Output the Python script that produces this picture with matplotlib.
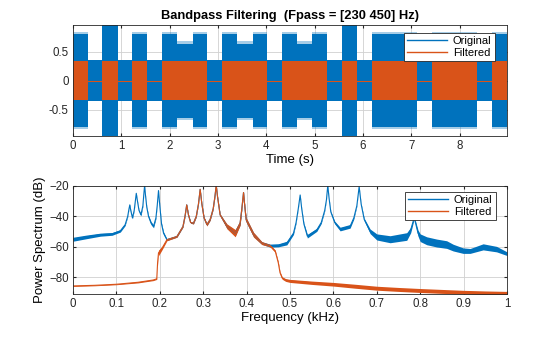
import matplotlib
matplotlib.use("Agg")
import matplotlib.pyplot as plt
from matplotlib.lines import Line2D
import numpy as np

plt.rcParams['font.family'] = ['Liberation Sans', 'DejaVu Sans']

blue_c = '#0072BD'
orange_c = '#D95319'

# time-domain envelopes (s, amplitude)
t_end = 8.98
base_amp = 0.35
loud_start = [0.00, 0.61, 1.23, 1.85, 2.16, 2.48, 3.09, 3.40, 3.72, 4.33, 4.64, 4.95, 5.57, 6.19, 7.43, 8.67]
loud_end   = [0.32, 0.94, 1.54, 2.16, 2.48, 2.77, 3.40, 3.72, 4.01, 4.64, 4.95, 5.26, 5.88, 7.11, 8.35, 8.98]
loud_amp   = [0.80, 0.97, 0.80, 0.80, 0.64, 0.80, 0.80, 0.64, 0.80, 0.80, 0.64, 0.80, 0.97, 0.80, 0.80, 0.80]
filt_start = [0.00, 0.61, 1.23, 1.85, 3.09, 4.33, 5.57, 6.19, 7.43, 8.67]
filt_end   = [0.32, 0.94, 1.54, 2.77, 4.01, 5.26, 5.88, 7.11, 8.35, 8.98]
filt_amp   = [0.34, 0.34, 0.34, 0.34, 0.34, 0.34, 0.34, 0.34, 0.34, 0.34]

# spectra: (kHz, dB, half-width of the noisy band)
# original below the passband
f_orig_lo = [0.0, 0.03, 0.063, 0.09, 0.109, 0.12, 0.126, 0.129, 0.1309, 0.133, 0.137, 0.141, 0.144, 0.1458, 0.148,
             0.152, 0.1565, 0.161, 0.163, 0.165, 0.167, 0.170, 0.174, 0.18, 0.1856, 0.191, 0.194, 0.197, 0.200,
             0.204, 0.2086]
db_orig_lo = [-55.0, -53.5, -52.0, -51.5, -49.5, -45.5, -40.0, -35.0, -32.4, -36.0, -41.0, -36.0, -29.0, -24.8, -29.0,
              -36.0, -39.0, -33.0, -26.0, -19.5, -26.0, -34.0, -40.0, -44.5, -46.5, -41.0, -33.0, -23.0, -33.0,
              -45.0, -51.0]
sp_orig_lo = [1.3, 1.2, 1.0, 0.9, 0.8, 0.6, 0.4, 0.3, 0.3, 0.4, 0.6, 0.4, 0.3, 0.3, 0.3,
              0.5, 0.7, 0.5, 0.3, 0.3, 0.3, 0.5, 0.8, 1.0, 1.0, 0.6, 0.4, 0.3, 0.4,
              0.7, 0.9]
# original above the passband
f_orig_hi = [0.454, 0.473, 0.4927, 0.508, 0.514, 0.519, 0.5234, 0.527, 0.532, 0.540, 0.5618, 0.572, 0.580, 0.584,
             0.587, 0.590, 0.594, 0.603, 0.6155, 0.6385, 0.647, 0.654, 0.6593, 0.664, 0.671, 0.6846, 0.70, 0.7306,
             0.769, 0.778, 0.783, 0.786, 0.789, 0.795, 0.80, 0.815, 0.838, 0.861, 0.876, 0.899, 0.915, 0.945,
             0.976, 1.0]
db_orig_hi = [-59.2, -59.0, -57.5, -51.0, -44.0, -35.0, -25.9, -35.0, -45.0, -53.0, -48.8, -44.0, -36.0, -29.0,
              -19.5, -28.0, -37.0, -44.0, -48.3, -46.5, -41.0, -33.0, -20.4, -32.0, -42.0, -49.8, -53.5, -55.0,
              -53.2, -49.0, -44.0, -41.0, -44.0, -51.0, -54.0, -56.0, -57.5, -58.5, -60.5, -62.5, -62.7, -60.0,
              -61.5, -64.5]
sp_orig_hi = [1.0, 1.0, 1.2, 0.9, 0.5, 0.3, 0.3, 0.4, 0.7, 1.2, 1.0, 0.7, 0.5, 0.3,
              0.3, 0.3, 0.5, 0.9, 1.2, 1.2, 0.8, 0.4, 0.3, 0.4, 0.8, 1.5, 2.0, 2.3,
              2.5, 1.8, 1.2, 0.6, 1.2, 2.0, 2.5, 2.6, 2.6, 2.5, 2.2, 1.8, 1.6, 2.0,
              1.8, 1.2]

f_filt = [0.0, 0.05, 0.10, 0.15, 0.185, 0.193, 0.195, 0.197, 0.201, 0.206, 0.2164, 0.2395, 0.2533, 0.258, 0.262,
          0.266, 0.271, 0.2775, 0.284, 0.289, 0.293, 0.297, 0.302, 0.3085, 0.316, 0.323, 0.327, 0.33, 0.333,
          0.339, 0.3546, 0.3737, 0.385, 0.389, 0.3929, 0.396, 0.399, 0.416, 0.435, 0.454, 0.466, 0.473, 0.477,
          0.482, 0.49, 0.50, 0.55, 0.60, 0.65, 0.70, 0.75, 0.80, 0.85, 0.90, 0.95, 1.0]
db_filt = [-85.7, -85.3, -84.6, -83.3, -81.8, -81.0, -70.0, -64.0, -62.5, -60.5, -55.3, -53.2, -46.7, -40.0, -32.4,
           -39.0, -44.0, -44.5, -40.0, -32.0, -22.2, -32.0, -41.0, -45.4, -42.0, -35.0, -27.0, -19.5, -27.0,
           -39.0, -46.5, -51.0, -44.4, -35.0, -24.3, -34.0, -42.2, -52.0, -57.5, -59.2, -62.9, -70.5, -77.0,
           -80.5, -81.8, -82.4, -83.6, -84.6, -85.9, -87.2, -88.0, -88.7, -89.3, -89.8, -90.2, -90.5]
sp_filt = [0.3, 0.3, 0.3, 0.4, 0.4, 0.4, 0.8, 1.8, 1.5, 1.0, 0.7, 0.5, 0.4, 0.3, 0.3,
           0.4, 0.5, 0.5, 0.4, 0.3, 0.3, 0.3, 0.6, 0.9, 0.6, 0.4, 0.3, 0.3, 0.3,
           0.6, 1.6, 2.4, 1.5, 0.6, 0.4, 0.8, 1.5, 1.6, 1.0, 0.8, 0.8, 0.8, 0.8,
           0.8, 0.9, 1.0, 1.1, 1.2, 1.3, 1.3, 1.3, 1.3, 1.3, 1.2, 1.2, 1.2]

# inside the passband the original spectrum coincides with the filtered one
ff = np.array(f_filt); df = np.array(db_filt); sf = np.array(sp_filt)
band = (ff > 0.2086) & (ff < 0.454)
fo = np.concatenate([f_orig_lo, ff[band], f_orig_hi])
do = np.concatenate([db_orig_lo, df[band], db_orig_hi])
so = np.concatenate([sp_orig_lo, sf[band] * 0.8, sp_orig_hi])

fig = plt.figure(figsize=(5.6, 3.37), dpi=100)
ax1 = fig.add_axes([73 / 560, 1 - 136 / 337, 434 / 560, 111 / 337])
ax2 = fig.add_axes([73 / 560, 1 - 294 / 337, 434 / 560, 108 / 337])

# top: time signal envelopes
ax1.bar([0], [2 * base_amp], width=t_end, bottom=-base_amp, align='edge', color=blue_c, linewidth=0)
s = np.array(loud_start); e = np.array(loud_end); a = np.array(loud_amp)
ax1.bar(s, 2 * a + 0.08, width=e - s, bottom=-a - 0.04, align='edge', color=blue_c, alpha=0.35, linewidth=0)
ax1.bar(s, 2 * a, width=e - s, bottom=-a, align='edge', color=blue_c, linewidth=0)
ax1.plot([0, t_end], [0, 0], color=orange_c, lw=0.8)
s = np.array(filt_start); e = np.array(filt_end); a = np.array(filt_amp)
ax1.bar(s, 2 * a, width=e - s, bottom=-a, align='edge', color=orange_c, linewidth=0)
ax1.set_xlim(0, t_end)
ax1.set_ylim(-0.955, 0.96)
ax1.set_xticks(range(9))
ax1.set_yticks([-0.5, 0, 0.5])
ax1.set_yticklabels(['-0.5', '0', '0.5'])
ax1.set_xlabel('Time (s)', fontsize=9.5, labelpad=1)
ax1.set_title('Bandpass Filtering  (Fpass = [230 450] Hz)', fontsize=9.3, fontweight='bold', pad=4)

# bottom: spectra
ax2.fill_between(fo, do - so, do + so, color=blue_c, linewidth=0)
ax2.plot(fo, do, color=blue_c, lw=0.8)
ax2.fill_between(ff, df - sf, df + sf, color=orange_c, linewidth=0)
ax2.plot(ff, df, color=orange_c, lw=0.8)
ax2.set_xlim(0, 1)
ax2.set_ylim(-91, -20)
ax2.set_xticks(np.arange(0, 1.01, 0.1))
ax2.set_xticklabels(['0', '0.1', '0.2', '0.3', '0.4', '0.5', '0.6', '0.7', '0.8', '0.9', '1'])
ax2.set_yticks([-80, -60, -40, -20])
ax2.set_xlabel('Frequency (kHz)', fontsize=9.5, labelpad=1)
ax2.set_ylabel('Power Spectrum (dB)', fontsize=9.5, labelpad=2)

handles = [Line2D([], [], color=blue_c, lw=1), Line2D([], [], color=orange_c, lw=1)]
for ax, anchor in ((ax1, (0.972, 0.93)), (ax2, (0.974, 0.944))):
    ax.grid(True, color='#d0d0d0', lw=0.6)
    ax.set_axisbelow(True)
    ax.tick_params(direction='in', length=2.5, labelsize=8.3, colors='#262626', top=True, right=True, pad=3)
    for sp in ax.spines.values():
        sp.set_color('#262626')
        sp.set_linewidth(0.6)
        sp.set_zorder(5)
    leg = ax.legend(handles, ['Original', 'Filtered'], loc='upper right', bbox_to_anchor=anchor,
                    fontsize=8, fancybox=False, framealpha=1, edgecolor='#262626', borderpad=0.3,
                    labelspacing=0.15, handlelength=3.6, handletextpad=0.5, borderaxespad=0)
    leg.get_frame().set_linewidth(0.6)

fig.savefig('out.png', dpi=100)
